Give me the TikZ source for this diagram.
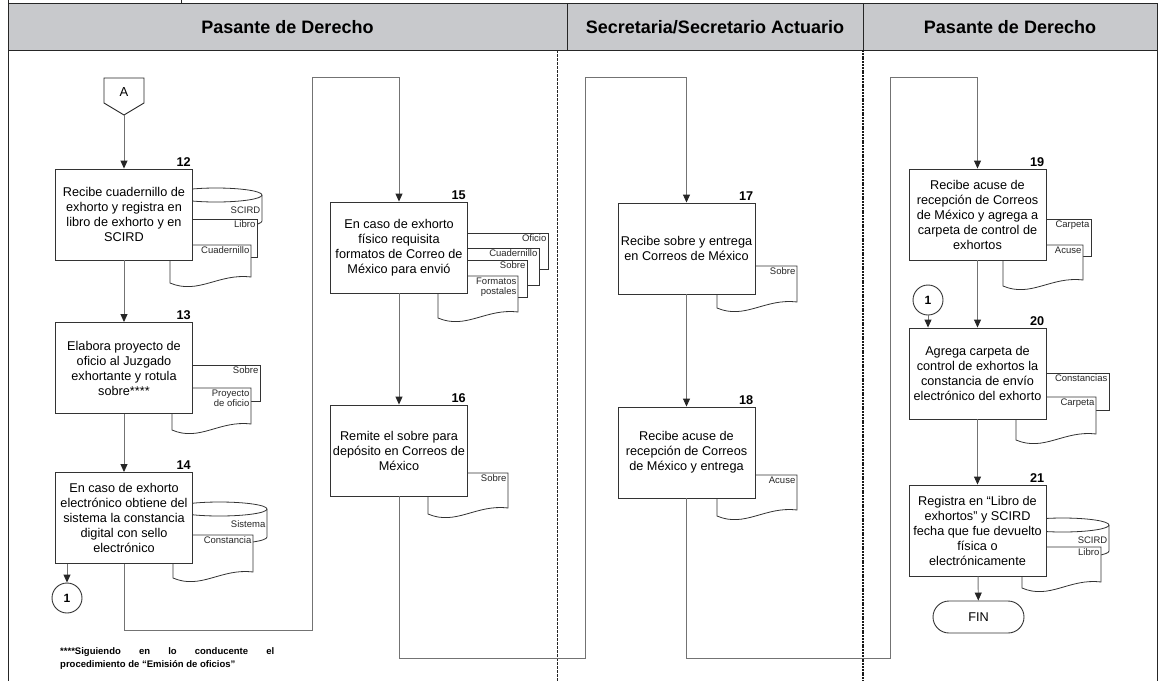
\documentclass[tikz,border=0pt]{standalone}
\usepackage{fontspec}
\setmainfont{Liberation Sans}
\usepackage{tikz}
\usetikzlibrary{positioning, arrows.meta}
\definecolor{cabecera}{RGB}{200,201,204}

\newcommand{\hoja}[6]{%
  \filldraw[doc] (#2,#3) rectangle (#4,#5);
  \node[etiq] (#1) at (#4,#3) {#6};}
\newcommand{\hojaonda}[6]{%
  \filldraw[doc] (#2,#5) -- (#2,#3) -- (#4,#3) -- (#4,#5-6)
    .. controls ({#2+(#4-#2)*0.6},{#5-10}) and ({#2+(#4-#2)*0.35},{#5+12}) .. (#2,#5) -- cycle;
  \node[etiq] (#1) at (#4,#3) {#6};}
\newcommand{\cilindro}[6]{%
  \filldraw[doc] (#2,#3+7) -- (#2,#5-7)
    arc[start angle=180, end angle=360, x radius={(#4-#2)*0.5pt}, y radius=7pt]
    -- (#4,#3+7)
    arc[start angle=0, end angle=180, x radius={(#4-#2)*0.5pt}, y radius=7pt] -- cycle;
  \draw[doc] (#2,#3+7) arc[start angle=180, end angle=360, x radius={(#4-#2)*0.5pt}, y radius=7pt];
  \node[etiq] (#1) at (#4,#3+17) {#6};}

\begin{document}
\begin{tikzpicture}[x=1pt,y=-1pt,
	>={Stealth[length=8pt,width=7pt,inset=0pt,color=black!85]},
	paso/.style={draw=black!80, fill=white, line width=0.9pt, minimum width=137pt,
		minimum height=91pt, inner sep=1pt, align=center, font=\fontsize{12.7}{15}\selectfont},
	num/.style={anchor=south east, inner sep=2pt, font=\bfseries\fontsize{12.7}{14}\selectfont},
	doc/.style={draw=black!80, fill=white, line width=0.8pt},
	etiq/.style={anchor=north east, inner sep=1.5pt, align=right, text=black!85,
		font=\fontsize{9.5}{10.5}\selectfont},
	flecha/.style={->, draw=black!55, line width=0.9pt},
	marco/.style={draw=black!85, line width=0.9pt},
	conector/.style={circle, draw=black!80, fill=white, line width=0.9pt, minimum size=30pt,
		inner sep=0pt, font=\bfseries\fontsize{12}{14}\selectfont},
	terminal/.style={draw=black!80, line width=0.9pt, rounded corners=16pt, minimum width=91pt,
		minimum height=32pt, font=\fontsize{12.7}{15}\selectfont}]
	\useasboundingbox (0,0) rectangle (1158,681);

	\fill[cabecera] (8,3) rectangle (1157,50);
	\draw[marco] (8,0) -- (8,681) (1157,3) -- (1157,681) (8,3) -- (1157,3) (8,50) -- (1157,50)
		(181,0) -- (181,3) (567,3) -- (567,50) (863,3) -- (863,50);
	\draw[black!85, line width=0.7pt, dash pattern=on 2.5pt off 1.5pt] (557,50) -- (557,681);
	\draw[black!90, line width=1.3pt, dash pattern=on 2pt off 0.8pt] (863,50) -- (863,681);
	\node[font=\bfseries\fontsize{18}{20}\selectfont] (h1) at (287.5,27) {Pasante de Derecho};
	\node[font=\bfseries\fontsize{18}{20}\selectfont] (h2) at (715,27) {Secretaria/Secretario Actuario};
	\node[font=\bfseries\fontsize{18}{20}\selectfont] (h3) at (1010,27) {Pasante de Derecho};

	\draw[marco, fill=white] (104,78) -- (144,78) -- (144,103) -- (124,115) -- (104,103) -- cycle;
	\node[font=\fontsize{13}{15}\selectfont] (A) at (124,92) {A};
	\coordinate (Ap) at (124,115);

	\cilindro{d12a}{170}{188}{262}{228}{SCIRD}
	\hoja{d12b}{170}{219}{257}{257}{Libro}
	\hojaonda{d12c}{170}{245}{251}{283}{Cuadernillo}
	\hoja{d13a}{172}{365}{260}{401}{Sobre}
	\hojaonda{d13b}{172}{388}{251}{430}{Proyecto\\de oficio}
	\cilindro{d14a}{172}{502}{267}{544}{Sistema}
	\hojaonda{d14b}{173}{535}{253}{578}{Constancia}
	\hoja{d15a}{440}{233}{548}{269}{Oficio}
	\hoja{d15b}{440}{248}{539}{285}{Cuadernillo}
	\hoja{d15c}{440}{260}{527}{297}{Sobre}
	\hojaonda{d15d}{438}{276}{518}{318}{Formatos\\postales}
	\hojaonda{d16}{428}{473}{508}{514}{Sobre}
	\hojaonda{d17}{717}{266}{797}{308}{Sobre}
	\hojaonda{d18}{717}{475}{797}{516}{Acuse}
	\hoja{d19a}{1003}{219}{1091}{256}{Carpeta}
	\hojaonda{d19b}{1003}{245}{1083}{286}{Acuse}
	\hoja{d20a}{1016}{373}{1109}{410}{Constancias}
	\hojaonda{d20b}{1016}{397}{1096}{440}{Carpeta}
	\cilindro{d21a}{1016}{518}{1109}{558}{SCIRD}
	\hojaonda{d21b}{1022}{547}{1101}{588}{Libro}

	\node[paso] (b12) at (124,214.5) {Recibe cuadernillo de\\exhorto y registra en\\libro de exhorto y en\\SCIRD};
	\node[paso] (b13) at (124,368) {Elabora proyecto de\\oficio al Juzgado\\exhortante y rotula\\sobre****};
	\node[paso] (b14) at (124,518) {En caso de exhorto\\electrónico obtiene del\\sistema la constancia\\digital con sello\\electrónico};
	\node[paso] (b15) at (399,247.5) {En caso de exhorto\\físico requisita\\formatos de Correo de\\México para envió};
	\node[paso] (b16) at (399,450.5) {Remite el sobre para\\depósito en Correos de\\México};
	\node[paso] (b17) at (686.5,248.5) {Recibe sobre y entrega\\en Correos de México};
	\node[paso] (b18) at (686.5,452.5) {Recibe acuse de\\recepción de Correos\\de México y entrega};
	\node[paso] (b19) at (977.5,214.5) {Recibe acuse de\\recepción de Correos\\de México y agrega a\\carpeta de control de\\exhortos};
	\node[paso] (b20) at (977.5,373.5) {Agrega carpeta de\\control de exhortos la\\constancia de envío\\electrónico del exhorto};
	\node[paso] (b21) at (977.5,530.5) {Registra en “Libro de\\exhortos” y SCIRD\\fecha que fue devuelto\\física o\\electrónicamente};
	\foreach \b in {12,...,21}
		\node[num] (n\b) at (b\b.north east) {\b};

	\node[conector] (c1a) at (67,598) {1};
	\node[conector] (c1b) at (928,300) {1};
	\node[terminal] (fin) at (978.5,617) {FIN};

	\coordinate (v1) at (312,630);
	\coordinate (v2) at (312,77);
	\coordinate (v3) at (585,658);
	\coordinate (v4) at (585,77);
	\coordinate (v5) at (890,658);
	\coordinate (v6) at (890,77);

	\draw[flecha] (Ap) -- (b12);
	\draw[flecha] (b12) -- (b13);
	\draw[flecha] (b13) -- (b14);
	\draw[flecha] (b14.south -| c1a) -- (c1a);
	\draw[flecha] (b14.south) |- (v1) -- (v2) -| (b15.north);
	\draw[flecha] (b15) -- (b16);
	\draw[flecha] (b16.south) |- (v3) -- (v4) -| (b17.north);
	\draw[flecha] (b17) -- (b18);
	\draw[flecha] (b18.south) |- (v5) -- (v6) -| (b19.north);
	\draw[flecha] (b19) -- (b20);
	\draw[flecha] (c1b) -- (b20.north -| c1b);
	\draw[flecha] (b20) -- (b21);
	\draw[flecha] (b21) -- (fin);

	\node[anchor=north west, align=left, inner sep=0pt, font=\bfseries\fontsize{9.5}{13}\selectfont] (nota) at (60,647)
		{\makebox[214pt][s]{****Siguiendo en lo conducente el}\\procedimiento de “Emisión de oficios”};
\end{tikzpicture}
\end{document}
